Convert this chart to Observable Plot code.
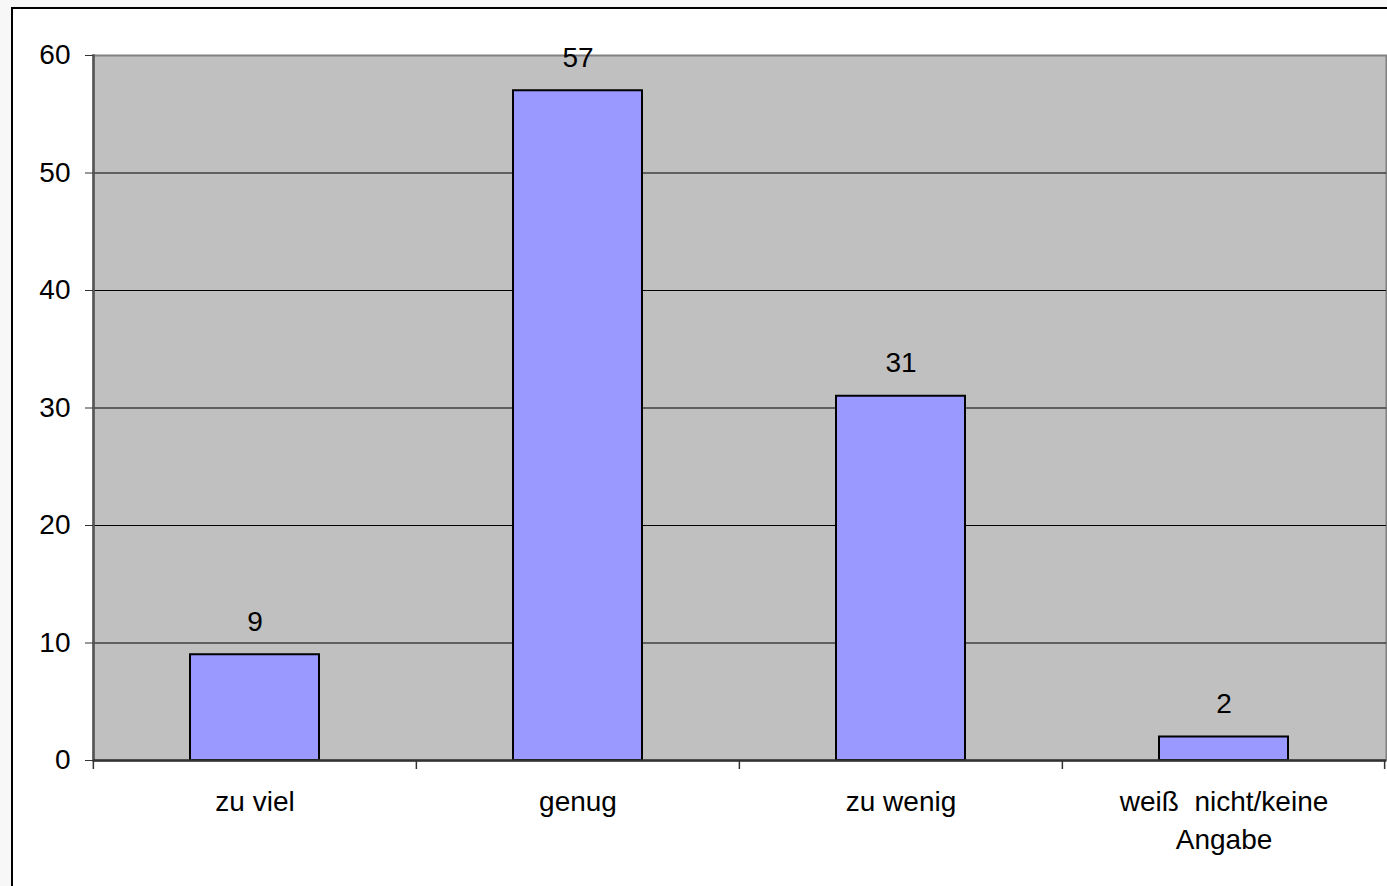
<!DOCTYPE html>
<html>
<head>
<meta charset="utf-8">
<script src="https://cdn.jsdelivr.net/npm/d3@7"></script>
<script src="https://cdn.jsdelivr.net/npm/@observablehq/plot@0.6"></script>
<style>
  html, body { margin: 0; padding: 0; background: #f7f7f7; }
  #wrap { position: absolute; left: 11px; top: 7px; width: 1376px; height: 879px;
          background: #fff; border-left: 2px solid #000; border-top: 2px solid #000; }
  #wrap svg { display: block; }
</style>
</head>
<body>
<div id="wrap"></div>
<script>
const categories = ["zu viel", "genug", "zu wenig", "weiß\u00A0 nicht/keine\nAngabe"];
const values = [9, 57, 31, 2];
const yTicks = [0, 10, 20, 30, 40, 50, 60];
const gridValues = [10, 20, 30, 40, 50];

const data = categories.map((c, i) => ({category: c, value: values[i]}));

const W = 1374, H = 877;
const mL = 80, mR = 1, mT = 46, mB = 126;
const step = (W - mL - mR) / categories.length;
const font = "Liberation Sans, Arial, sans-serif";

const chart = Plot.plot({
  width: W,
  height: H,
  marginLeft: mL,
  marginRight: mR,
  marginTop: mT,
  marginBottom: mB,
  style: {fontFamily: font, fontSize: "28px", color: "#000", background: "#fff"},
  x: {domain: categories, paddingInner: 0.6, paddingOuter: 0.3, label: null},
  y: {domain: [0, 60], label: null},
  marks: [
    Plot.frame({fill: "#C0C0C0", stroke: "#808080", strokeWidth: 2}),
    Plot.ruleY(gridValues, {stroke: "#000", strokeWidth: 1.2}),
    Plot.barY(data, {x: "category", y: "value", fill: "#9999FF", stroke: "#000", strokeWidth: 2}),
    Plot.text(data, {x: "category", y: "value", text: d => String(d.value), dy: -33, fontSize: 28, fill: "#000"}),
    Plot.ruleX(categories, {x: d => d, y1: 0, y2: 0, dx: -step / 2, insetBottom: -9, stroke: "#333", strokeWidth: 1.5}),
    Plot.ruleX([categories[categories.length - 1]], {x: d => d, y1: 0, y2: 0, dx: step / 2 - 1, insetBottom: -9, stroke: "#333", strokeWidth: 1.5}),
    Plot.frame({anchor: "left", stroke: "#555", strokeWidth: 2.5}),
    Plot.ruleY([0], {stroke: "#333", strokeWidth: 2.5}),
    Plot.axisY({ticks: yTicks, tickSize: 8, tickPadding: 15, fontSize: 28, stroke: "#333", label: null}),
    Plot.axisX({tickSize: 0, tickPadding: 23, fontSize: 28, lineHeight: 1.36, label: null})
  ]
});
document.getElementById("wrap").appendChild(chart);
</script>
</body>
</html>
